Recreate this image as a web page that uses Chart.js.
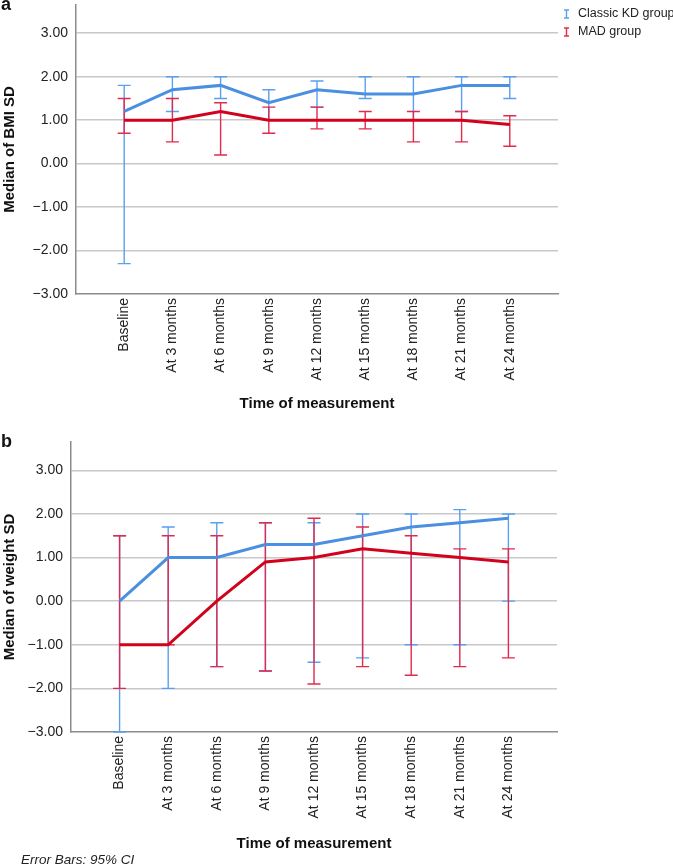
<!DOCTYPE html>
<html>
<head>
<meta charset="utf-8">
<script src="https://cdn.jsdelivr.net/npm/chart.js@4/dist/chart.umd.min.js"></script>
<style>
  body { margin: 0; background: #fff; }
  canvas { position: absolute; left: 0; }
</style>
</head>
<body>
<canvas id="bmiChart" width="673" height="415" style="top:0"></canvas>
<canvas id="weightChart" width="673" height="452" style="top:415px"></canvas>
<script>
// ---------------- DATA ----------------
const timeLabels = ["Baseline", "At 3 months", "At 6 months", "At 9 months", "At 12 months",
  "At 15 months", "At 18 months", "At 21 months", "At 24 months"];
const yTicks = [-3, -2, -1, 0, 1, 2, 3];

// panel a: BMI SD
const bmiKdMedian = [1.2, 1.7, 1.8, 1.4, 1.7, 1.6, 1.6, 1.8, 1.8];
const bmiKdLow    = [-2.3, 1.2, 1.5, 1.0, 1.3, 1.5, 1.0, 1.2, 1.5];
const bmiKdHigh   = [1.8, 2.0, 2.0, 1.7, 1.9, 2.0, 2.0, 2.0, 2.0];
const bmiMadMedian = [1.0, 1.0, 1.2, 1.0, 1.0, 1.0, 1.0, 1.0, 0.9];
const bmiMadLow    = [0.7, 0.5, 0.2, 0.7, 0.8, 0.8, 0.5, 0.5, 0.4];
const bmiMadHigh   = [1.5, 1.5, 1.4, 1.3, 1.3, 1.2, 1.2, 1.2, 1.1];

// panel b: weight SD
const wtKdMedian = [0.0, 1.0, 1.0, 1.3, 1.3, 1.5, 1.7, 1.8, 1.9];
const wtKdLow    = [-3.0, -2.0, -1.5, -1.6, -1.4, -1.3, -1.0, -1.0, 0.0];
const wtKdHigh   = [1.5, 1.7, 1.8, 1.8, 1.8, 2.0, 2.0, 2.1, 2.0];
const wtMadMedian = [-1.0, -1.0, 0.0, 0.9, 1.0, 1.2, 1.1, 1.0, 0.9];
const wtMadLow    = [-2.0, -1.0, -1.5, -1.6, -1.9, -1.5, -1.7, -1.5, -1.3];
const wtMadHigh   = [1.5, 1.5, 1.5, 1.8, 1.9, 1.7, 1.5, 1.2, 1.2];

const seriesNames = ["Classic KD group", "MAD group"];

// ---------------- STYLE ----------------
const FONT = "'Liberation Sans', Arial, Helvetica, sans-serif";
const KD_LINE = "#4a8fe0", KD_ERR = "#5a9ff0";
const MAD_LINE = "#d2021e", MAD_ERR = "#e22a4c";
const GRID = "#c8c8c8", AXIS = "#8c8c8c";

const fmt = v => (v < 0 ? "\u2212" : "") + Math.abs(v).toFixed(2);

// error bars drawn under the lines
const errorBars = {
  id: "errorBars",
  beforeDatasetsDraw(chart){
    const {ctx, scales:{x, y}} = chart;
    ctx.save();
    chart.data.datasets.forEach(ds => {
      ctx.strokeStyle = ds.errColor;
      ctx.lineWidth = 1.4;
      ds.errLow.forEach((lo, i) => {
        const px = x.getPixelForValue(i);
        const yl = y.getPixelForValue(lo), yh = y.getPixelForValue(ds.errHigh[i]);
        ctx.beginPath();
        ctx.moveTo(px, yl); ctx.lineTo(px, yh);
        ctx.moveTo(px - 6.5, yl); ctx.lineTo(px + 6.5, yl);
        ctx.moveTo(px - 6.5, yh); ctx.lineTo(px + 6.5, yh);
        ctx.stroke();
      });
    });
    ctx.restore();
  }
};

// panel letter, legend, caption
const decor = {
  id: "decor",
  afterDraw(chart, args, opts){
    const ctx = chart.ctx;
    ctx.save();
    ctx.fillStyle = "#111";
    ctx.font = "bold 18px " + FONT;
    ctx.textBaseline = "alphabetic";
    ctx.fillText(opts.letter, 1, opts.letterY);
    if (opts.legend) {
      ctx.font = "12.5px " + FONT;
      ctx.textBaseline = "middle";
      chart.data.datasets.forEach((ds, i) => {
        const cy = 14 + i * 18, cx = 566.5;
        ctx.strokeStyle = ds.errColor;
        ctx.lineWidth = 1.4;
        ctx.beginPath();
        ctx.moveTo(cx, cy - 4); ctx.lineTo(cx, cy + 4);
        ctx.moveTo(cx - 2.5, cy - 4); ctx.lineTo(cx + 2.5, cy - 4);
        ctx.moveTo(cx - 2.5, cy + 4); ctx.lineTo(cx + 2.5, cy + 4);
        ctx.stroke();
        ctx.fillStyle = "#222";
        ctx.fillText(ds.label, 578, cy);
      });
    }
    if (opts.caption) {
      ctx.font = "italic 13.5px " + FONT;
      ctx.fillStyle = "#222";
      ctx.textBaseline = "alphabetic";
      ctx.fillText(opts.caption, 21, opts.captionY);
    }
    ctx.restore();
  }
};

function makeDataset(label, med, lo, hi, line, err){
  return {
    label: label,
    data: med.map((v, i) => ({x: i, y: v})),
    errLow: lo, errHigh: hi, errColor: err,
    borderColor: line, borderWidth: 3,
    pointRadius: 0, tension: 0, fill: false
  };
}

function makeChart(id, cfg){
  return new Chart(document.getElementById(id).getContext("2d"), {
    type: "line",
    data: {
      datasets: [
        makeDataset(seriesNames[0], cfg.kd[0], cfg.kd[1], cfg.kd[2], KD_LINE, KD_ERR),
        makeDataset(seriesNames[1], cfg.mad[0], cfg.mad[1], cfg.mad[2], MAD_LINE, MAD_ERR)
      ]
    },
    options: {
      responsive: false,
      animation: false,
      layout: {padding: {top: cfg.top, right: cfg.right, bottom: cfg.bottom, left: 0}},
      plugins: {
        legend: {display: false},
        tooltip: {enabled: false},
        decor: cfg.decor
      },
      scales: {
        x: {
          type: "linear", min: -1, max: 9,
          afterFit: s => { s.height = cfg.xHeight; s.paddingLeft = 0; s.paddingRight = 0; },
          grid: {display: false, drawTicks: false},
          border: {color: AXIS, width: 1.5},
          ticks: {
            stepSize: 1, autoSkip: false, minRotation: 90, maxRotation: 90, padding: 4,
            color: "#222", font: {family: FONT, size: 14},
            callback: v => timeLabels[v] || ""
          },
          title: {display: true, text: "Time of measurement", color: "#111",
            font: {family: FONT, size: 15, weight: "bold"}, padding: {top: 0, bottom: 0}}
        },
        y: {
          min: -3, max: 3.65,
          afterFit: s => { s.width = cfg.yWidth; s.paddingTop = 0; s.paddingBottom = 0; },
          afterBuildTicks: s => { s.ticks = yTicks.map(v => ({value: v})); },
          grid: {color: c => c.tick && c.tick.value === -3 ? "rgba(0,0,0,0)" : GRID, lineWidth: 1.5, drawTicks: false},
          border: {color: AXIS, width: 1.5},
          ticks: {padding: 8, color: "#222", font: {family: FONT, size: 14}, callback: v => fmt(v)},
          title: {display: true, text: cfg.yTitle, color: "#111",
            font: {family: FONT, size: 15, weight: "bold"}, padding: {top: 1, bottom: 0}}
        }
      }
    },
    plugins: [errorBars, decor]
  });
}

// ---------------- INITIALIZE ----------------
makeChart("bmiChart", {
  kd: [bmiKdMedian, bmiKdLow, bmiKdHigh],
  mad: [bmiMadMedian, bmiMadLow, bmiMadHigh],
  yTitle: "Median of BMI SD",
  top: 5, right: 115, bottom: 2, xHeight: 119, yWidth: 76,
  decor: {letter: "a", letterY: 10, legend: true}
});

makeChart("weightChart", {
  kd: [wtKdMedian, wtKdLow, wtKdHigh],
  mad: [wtMadMedian, wtMadLow, wtMadHigh],
  yTitle: "Median of weight SD",
  top: 27, right: 116, bottom: 14, xHeight: 121, yWidth: 71,
  decor: {letter: "b", letterY: 32, legend: false, caption: "Error Bars: 95% CI", captionY: 449}
});
</script>
</body>
</html>
